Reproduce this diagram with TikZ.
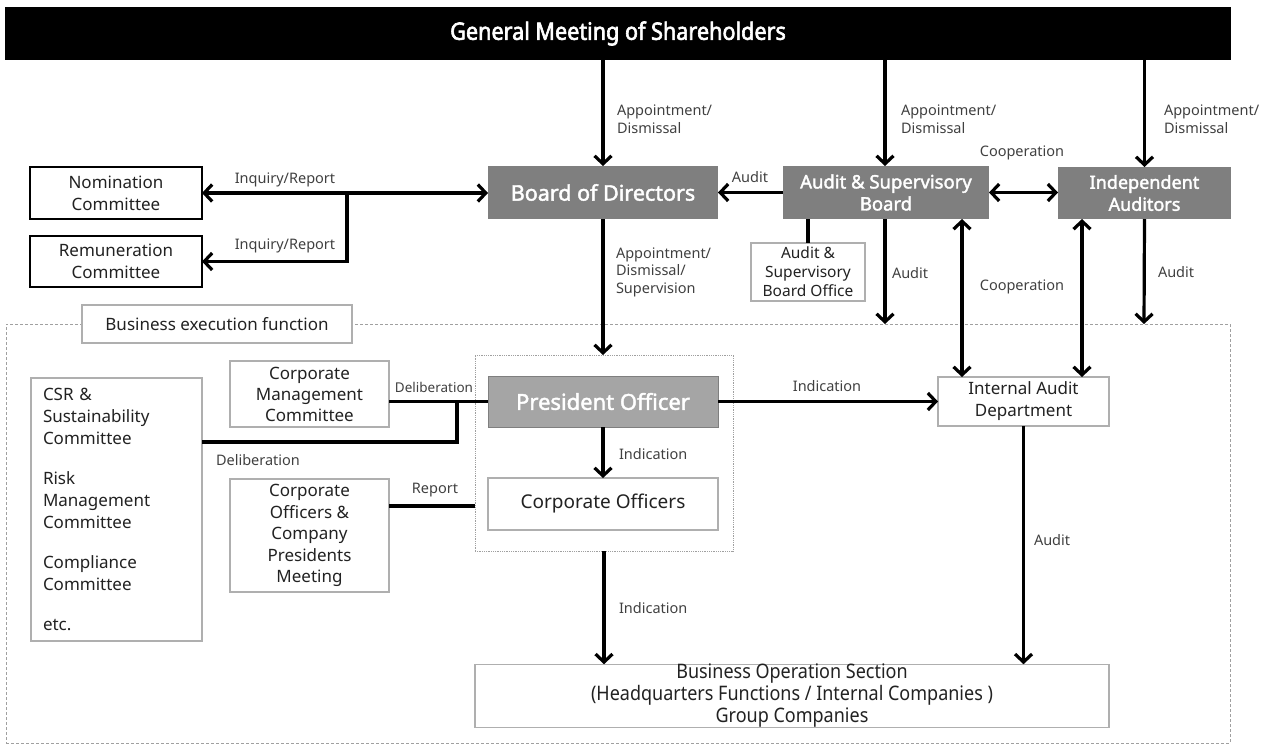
\documentclass[tikz,border=0pt]{standalone}
\usepackage{fontspec}
\setmainfont{Noto Sans}
\newfontfamily\condfont[FakeStretch=0.9]{Noto Sans}
\newfontfamily\boldfam[FakeBold=2]{Noto Sans}
\newfontfamily\titlefam[FakeStretch=0.9,FakeBold=2.5]{Noto Sans}
\usetikzlibrary{arrows.meta}

\definecolor{darkbox}{RGB}{127,127,127}
\definecolor{lightbox}{RGB}{165,165,165}
\definecolor{bordergray}{RGB}{175,175,175}
\definecolor{framegray}{RGB}{160,160,160}
\definecolor{txt}{RGB}{34,34,34}
\definecolor{lbl}{RGB}{64,64,64}

\tikzset{
  every node/.style={inner sep=0pt, outer sep=0pt},
  barbox/.style={fill=black, text=white, font=\titlefam\fontsize{24}{26}\selectfont},
  greybox/.style={fill=darkbox, text=white, align=center, font=\boldfam\fontsize{18.5}{22}\selectfont},
  lightgreybox/.style={fill=lightbox, draw=darkbox, line width=0.8pt, text=white, align=center, font=\boldfam\fontsize{22}{22}\selectfont},
  blackframebox/.style={draw=black, line width=1.3pt, fill=white, text=txt, align=center, font=\fontsize{17}{22}\selectfont},
  whitebox/.style={draw=bordergray, line width=1.3pt, fill=white, text=txt, align=center, font=\fontsize{17}{22}\selectfont},
  labeltxt/.style={text=lbl, align=left, font=\fontsize{14.5}{17.5}\selectfont},
  frameouter/.style={draw=framegray, line width=0.9pt, dash pattern=on 3pt off 2pt},
  framedotted/.style={draw=framegray, line width=0.8pt, dash pattern=on 0.8pt off 1pt},
  conn/.style={line width=3.2pt, black},
  arrowone/.style={conn, -{Straight Barb[length=8pt,width=17pt]}},
  arrowtwo/.style={conn, {Straight Barb[length=8pt,width=17pt]}-{Straight Barb[length=8pt,width=17pt]}},
}

\begin{document}
\begin{tikzpicture}[x=1pt,y=-1pt]
\useasboundingbox (0,0) rectangle (1269,745);

% frames
\node[frameouter, minimum width=1224pt, minimum height=419pt] (exec) at (618,533.5) {};
\node[framedotted, minimum width=258pt, minimum height=196pt] (grp) at (604,453) {};

% top bar
\node[barbox, minimum width=1226pt, minimum height=53pt] (gms) at (618,33.5) {General Meeting of Shareholders};

% governance boxes
\node[blackframebox, minimum width=172pt, minimum height=52pt] (nom) at (116,193) {Nomination\\Committee};
\node[blackframebox, minimum width=172pt, minimum height=51pt] (rem) at (116,261.5) {Remuneration\\Committee};
\node[greybox, minimum width=230pt, minimum height=53pt, font=\boldfam\fontsize{21.5}{22}\selectfont] (bod) at (603,192.5) {Board of Directors};
\node[greybox, minimum width=206pt, minimum height=53pt] (asb) at (886,192.5) {Audit \& Supervisory\\Board};
\node[greybox, minimum width=173pt, minimum height=52pt, font=\boldfam\fontsize{18}{22}\selectfont] (ia) at (1144.5,193) {Independent\\Auditors};
\node[whitebox, minimum width=114pt, minimum height=58pt, font=\fontsize{15.5}{19}\selectfont] (asbo) at (808,272) {Audit \&\\Supervisory\\Board Office};

% execution
\node[whitebox, minimum width=270pt, minimum height=38pt] (bef) at (217,324) {Business execution function};
\node[whitebox, minimum width=171pt, minimum height=263pt, text width=147pt, align=left] (csr) at (116.5,509.5)
  {CSR \&\\Sustainability\\Committee\\[18pt]Risk\\Management\\Committee\\[18pt]Compliance\\Committee\\[18pt]etc.};
\node[whitebox, minimum width=159pt, minimum height=66pt, font=\fontsize{17}{21}\selectfont] (cmc) at (309.5,394) {Corporate\\Management\\Committee};
\node[whitebox, minimum width=159pt, minimum height=113pt, font=\fontsize{17}{21.5}\selectfont] (cocp) at (309.5,535.5) {Corporate\\Officers \&\\Company\\Presidents\\Meeting};
\node[lightgreybox, minimum width=230pt, minimum height=51pt] (po) at (603,401.5) {President Officer};
\node[whitebox, minimum width=230pt, minimum height=52pt, font=\fontsize{19}{22}\selectfont] (co) at (603,504) {Corporate Officers};
\node[whitebox, minimum width=171pt, minimum height=49pt] (iad) at (1023.5,401.5) {Internal Audit\\Department};
\node[whitebox, minimum width=634pt, minimum height=62pt, font=\condfont\fontsize{20}{22}\selectfont] (bos) at (792,696)
  {Business Operation Section\\(Headquarters Functions / Internal Companies )\\Group Companies};

% helper coordinates
\coordinate (brA) at (347,193);
\coordinate (asbX) at (885,0);
\coordinate (asbEnd) at (885,324);
\coordinate (iaEnd) at (1144,324);
\coordinate (coopA) at (962,0);
\coordinate (coopB) at (1082,0);
\coordinate (brB) at (457,402);
\coordinate (brBlow) at (457,442);
\coordinate (csrTap) at (202,442);
\coordinate (rpY) at (0,506);

% connectors from the shareholders meeting
\draw[arrowone] (bod.north |- gms.south) -- (bod.north);
\draw[arrowone] (asbX |- gms.south) -- (asbX |- asb.north);
\draw[arrowone] (ia.north |- gms.south) -- (ia.north);

% committees
\draw[arrowtwo] (nom.east) -- (bod.west |- nom.east);
\draw[arrowone] (brA) |- (rem.east);

% audit & supervisory board
\draw[arrowone] (asb.west) -- (bod.east);
\draw[conn] (asb.south -| asbo.north) -- (asbo.north);
\draw[arrowone] (asbX |- asb.south) -- (asbEnd);
\draw[arrowtwo] (asb.east) -- (ia.west |- asb.east);
\draw[arrowtwo] (coopA |- asb.south) -- (coopA |- iad.north);
\draw[arrowtwo] (coopB |- ia.south) -- (coopB |- iad.north);
\draw[arrowone] (ia.south) -- (iaEnd);

% execution side
\draw[arrowone] (bod.south) -- (bod.south |- grp.north);
\draw[conn] (cmc.east |- po.west) -- (po.west);
\draw[conn] (brB) -- (brBlow) -- (csrTap);
\draw[conn] (cocp.east |- rpY) -- (grp.west |- rpY);
\draw[arrowone] (po.east) -- (iad.west |- po.east);
\draw[arrowone] (po.south) -- (co.north);
\draw[arrowone] (grp.south) -- (grp.south |- bos.north);
\draw[arrowone] (iad.south) -- (iad.south |- bos.north);

% labels
\node[labeltxt, anchor=west] at (617,119) {Appointment/\\Dismissal};
\node[labeltxt, anchor=west] at (901,119) {Appointment/\\Dismissal};
\node[labeltxt, anchor=west] at (1164,119) {Appointment/\\Dismissal};
\node[labeltxt] at (285,180) {Inquiry/Report};
\node[labeltxt] at (285,246) {Inquiry/Report};
\node[labeltxt] at (750,177) {Audit};
\node[labeltxt] at (1022,153) {Cooperation};
\node[labeltxt, anchor=west] at (616,272) {Appointment/\\Dismissal/\\Supervision};
\node[labeltxt, anchor=west] at (892,273) {Audit};
\node[labeltxt] at (1022,287) {Cooperation};
\node[labeltxt, anchor=west] at (1158,272) {Audit};
\node[labeltxt, font=\fontsize{13.5}{16}\selectfont] at (434,387) {Deliberation};
\node[labeltxt] at (258,460) {Deliberation};
\node[labeltxt] at (435,490) {Report};
\node[labeltxt] at (827,386) {Indication};
\node[labeltxt, anchor=west] at (619,454) {Indication};
\node[labeltxt, anchor=west] at (619,608) {Indication};
\node[labeltxt, anchor=west] at (1034,540) {Audit};
\end{tikzpicture}
\end{document}
